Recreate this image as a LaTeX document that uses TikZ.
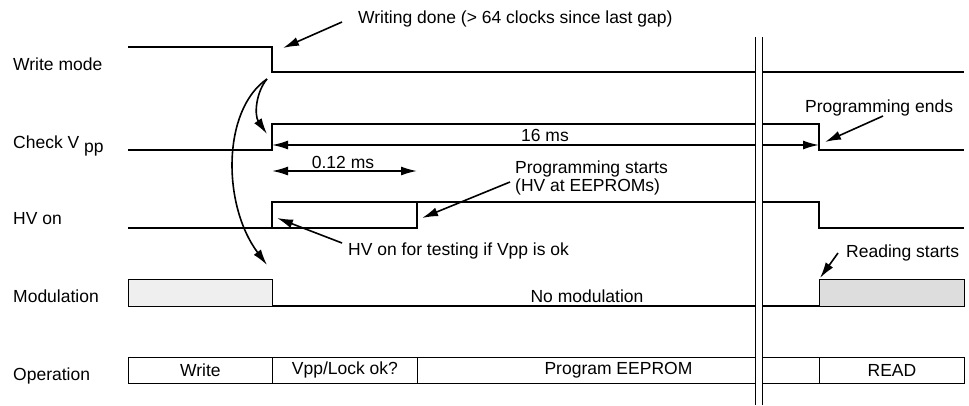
\documentclass[tikz,border=0pt]{standalone}
\usepackage{fontspec}
\setmainfont{Liberation Sans}
\usetikzlibrary{arrows.meta}
\begin{document}
\begin{tikzpicture}[x=1pt,y=-1pt,
  sig/.style={line width=1.8pt, line join=miter},
  thinline/.style={line width=0.9pt},
  arr/.style={line width=1.6pt,-{Latex[length=16pt,width=9pt]}},
  dimarr/.style={line width=1.6pt,{Latex[length=16pt,width=9pt]}-{Latex[length=16pt,width=9pt]}},
  txt/.style={inner sep=0pt, anchor=base west, font=\fontsize{17.5}{20}\selectfont},
  ctxt/.style={inner sep=0pt, anchor=base, font=\fontsize{17.5}{20}\selectfont},
  opbox/.style={draw, line width=0.9pt, anchor=north west, minimum height=26pt, inner sep=0pt, font=\fontsize{17.5}{20}\selectfont},
  modbox/.style={draw, line width=0.9pt, anchor=north west, minimum height=27pt, inner sep=0pt}]
\useasboundingbox (0,0) rectangle (969,405);

% left labels
\node[txt] (lwm) at (13,70) {Write mode};
\node[txt] (lcv) at (13,148) {Check V \raisebox{-4.5pt}{pp}};
\node[txt] (lhv) at (13,224) {HV on};
\node[txt] (lmod) at (13,302) {Modulation};
\node[txt] (lop) at (13,380) {Operation};

% signals
\draw[sig] (128,47) -- (272,47) -- (272,72) -- (964,72);
\draw[sig] (128,150) -- (272,150) -- (272,124) -- (819,124) -- (819,150) -- (964,150);
\draw[sig] (128,228) -- (417,228) -- (417,202);
\draw[sig] (272,228) -- (272,202) -- (819,202) -- (819,228) -- (964,228);
\draw[sig] (272,306) -- (819,306);

% modulation boxes
\node[modbox, fill={rgb,255:red,239;green,239;blue,239}, minimum width=144pt] (modw) at (128,279) {};
\node[modbox, fill={rgb,255:red,221;green,221;blue,221}, minimum width=145pt] (modr) at (819,279) {};
\node[ctxt] (nomod) at (587,302) {No modulation};

% operation boxes
\node[opbox, minimum width=144pt] (opw) at (128,357) {Write};
\node[opbox, minimum width=145pt] (opv) at (272,357) {Vpp/Lock ok?};
\node[opbox, minimum width=402pt] (opp) at (417,357) {Program EEPROM};
\node[opbox, minimum width=145pt] (opr) at (819,357) {READ};

% dimension arrows
\coordinate (d16a) at (272,145);
\coordinate (d16b) at (819,145);
\draw[dimarr] (d16a) -- (d16b);
\node[ctxt] (t16) at (545,141) {16 ms};
\coordinate (d012a) at (272,171);
\coordinate (d012b) at (417,171);
\draw[dimarr] (d012a) -- (d012b);
\node[ctxt] (t012) at (343,168) {0.12 ms};

% annotations
\node[txt] (wdone) at (358,23) {Writing done (> 64 clocks since last gap)};
\coordinate (wds) at (342,22);
\coordinate (wdt) at (283,48);
\draw[arr] (wds) -- (wdt);

\node[txt] (pends) at (805,112) {Programming ends};
\coordinate (pes) at (883,116);
\coordinate (pet) at (825,142);
\draw[arr] (pes) -- (pet);

\node[txt] (pstart) at (515,173) {Programming starts};
\node[txt] (pstart2) at (515,191) {(HV at EEPROMs)};
\coordinate (pss) at (510,182);
\coordinate (pst) at (422,218);
\draw[arr] (pss) -- (pst);

\node[txt] (hvtest) at (348,255) {HV on for testing if Vpp is ok};
\coordinate (hvs) at (342,243);
\coordinate (hvt) at (277,218);
\draw[arr] (hvs) -- (hvt);

\node[txt] (rstart) at (846,257) {Reading starts};
\coordinate (rss) at (838,253);
\coordinate (rst) at (820,278);
\draw[arr] (rss) -- (rst);

% curved arrows
\coordinate (cs) at (267,79);
\coordinate (ct1) at (267,134);
\coordinate (ct2) at (267,265);
\draw[arr] (cs) .. controls (256,92) and (254,115) .. (ct1);
\draw[arr] (cs) .. controls (222,110) and (222,205) .. (ct2);

% time break
\fill[white] (755,37) rectangle (762,405);
\draw[thinline] (755,37) -- (755,405);
\draw[thinline] (762,37) -- (762,405);
\end{tikzpicture}
\end{document}
